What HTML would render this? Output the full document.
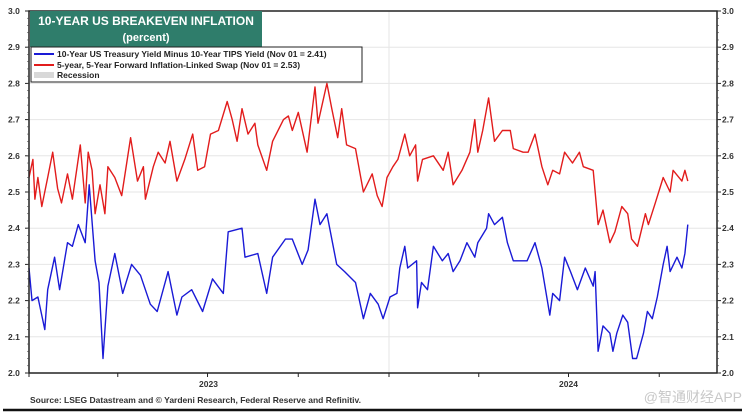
<!DOCTYPE html>
<html><head><meta charset="utf-8"><style>
body{margin:0;background:#fff;}
svg{display:block;font-family:"Liberation Sans",Arial,sans-serif;}
</style></head><body>
<svg id="chart" width="748" height="415" viewBox="0 0 748 415">
<g id="grid"></g>
<g id="series"></g>
<rect x="29" y="11" width="688" height="362" fill="none" stroke="#222" stroke-width="1.5"/>
<g id="axes"></g>
<g>
<rect x="30" y="11" width="232" height="36" fill="#2f7d6b"/>
<text x="146" y="25" text-anchor="middle" fill="#fff" font-size="12" font-weight="bold">10-YEAR US BREAKEVEN INFLATION</text>
<text x="146" y="41" text-anchor="middle" fill="#fff" font-size="11" font-weight="bold">(percent)</text>
</g>
<g>
<rect x="31" y="47" width="331" height="35" fill="#fff" stroke="#222" stroke-width="1"/>
<line x1="34" y1="54" x2="54" y2="54" stroke="#1a1ad6" stroke-width="2"/>
<text x="57" y="57" font-size="8.5" font-weight="bold" fill="#222">10-Year US Treasury Yield Minus 10-Year TIPS Yield (Nov 01 = 2.41)</text>
<line x1="34" y1="65" x2="54" y2="65" stroke="#e21c1c" stroke-width="2"/>
<text x="57" y="68" font-size="8.5" font-weight="bold" fill="#222">5-year, 5-Year Forward Inflation-Linked Swap (Nov 01 = 2.53)</text>
<rect x="34" y="72" width="20" height="6" fill="#d8d8d8"/>
<text x="57" y="78" font-size="8.5" font-weight="bold" fill="#222">Recession</text>
</g>
<text x="30" y="403" font-size="8.5" font-weight="bold" fill="#333">Source: LSEG Datastream and © Yardeni Research, Federal Reserve and Refinitiv.</text>
<line x1="3" y1="410" x2="742" y2="410" stroke="#111" stroke-width="2.5"/>
<text x="742" y="402" text-anchor="end" font-size="14" fill="#c8c8c8" font-family="'Liberation Sans','Noto Sans CJK SC',sans-serif">@智通财经APP</text>
</svg>
<script>
const blueDays=[0,3,9,16,19,26,31,39,44,50,57,61,67,71,75,80,87,95,104,113,123,130,141,150,155,165,176,186,197,202,216,219,232,241,247,260,267,277,283,290,295,302,312,320,331,339,346,354,359,366,373,376,381,384,393,394,398,404,410,419,425,430,437,444,452,455,464,466,472,480,485,491,505,513,520,528,531,538,543,549,556,564,572,574,577,582,589,592,596,602,607,612,616,623,627,632,637,643,647,650,657,662,665,668];
const blueVals=[2.29,2.20,2.21,2.12,2.23,2.32,2.23,2.36,2.35,2.41,2.36,2.52,2.31,2.25,2.04,2.24,2.33,2.22,2.30,2.27,2.19,2.17,2.28,2.16,2.21,2.23,2.17,2.26,2.22,2.39,2.40,2.32,2.33,2.22,2.32,2.37,2.37,2.30,2.34,2.48,2.41,2.44,2.30,2.28,2.25,2.15,2.22,2.19,2.15,2.21,2.22,2.29,2.35,2.29,2.31,2.18,2.25,2.23,2.35,2.31,2.33,2.28,2.31,2.36,2.32,2.36,2.40,2.44,2.41,2.43,2.36,2.31,2.31,2.36,2.29,2.16,2.22,2.20,2.32,2.28,2.23,2.29,2.24,2.28,2.06,2.13,2.11,2.06,2.11,2.16,2.14,2.04,2.04,2.11,2.17,2.15,2.21,2.30,2.35,2.28,2.32,2.29,2.33,2.41];
const redDays=[0,4,6,9,13,19,24,29,33,39,44,52,57,60,64,67,72,77,80,87,94,103,110,116,118,126,131,138,143,150,158,166,171,178,184,192,201,206,211,216,222,229,232,241,247,258,263,267,273,282,290,293,302,307,313,317,322,331,339,348,353,358,363,369,374,381,386,392,394,399,410,420,425,430,439,447,452,455,460,466,472,480,488,491,501,506,513,520,526,531,538,543,551,558,562,572,577,582,589,594,601,607,611,617,625,628,635,643,650,653,662,665,668];
const redVals=[2.54,2.59,2.48,2.54,2.46,2.54,2.61,2.51,2.47,2.55,2.48,2.63,2.47,2.61,2.56,2.44,2.52,2.44,2.57,2.54,2.49,2.65,2.53,2.57,2.48,2.57,2.61,2.58,2.64,2.53,2.59,2.66,2.56,2.57,2.66,2.67,2.75,2.70,2.64,2.73,2.66,2.69,2.63,2.56,2.64,2.70,2.71,2.67,2.72,2.61,2.79,2.69,2.80,2.73,2.65,2.73,2.63,2.62,2.50,2.55,2.49,2.46,2.54,2.57,2.59,2.66,2.60,2.63,2.53,2.59,2.60,2.56,2.61,2.52,2.56,2.61,2.70,2.61,2.67,2.76,2.64,2.67,2.67,2.62,2.61,2.61,2.66,2.57,2.52,2.56,2.55,2.61,2.58,2.61,2.57,2.56,2.41,2.45,2.36,2.39,2.46,2.44,2.37,2.35,2.44,2.41,2.47,2.54,2.50,2.56,2.53,2.56,2.53];
const yTicks=[2.0,2.1,2.2,2.3,2.4,2.5,2.6,2.7,2.8,2.9,3.0];
const yearLabels=["2023","2024"];
const yearStartDays=[0,365];
const quarterDays=[0,90,181,273,365,456,547,639];

const NS="http://www.w3.org/2000/svg";
const X0=29,PXD=360/365,Y0=373,PXV=362;
function xs(d){return X0+d*PXD;}
function ys(v){return Y0-(v-2)*PXV;}
function mk(tag,attrs,parent){const e=document.createElementNS(NS,tag);for(const k in attrs)e.setAttribute(k,attrs[k]);parent.appendChild(e);return e;}
const grid=document.getElementById('grid'),axes=document.getElementById('axes'),ser=document.getElementById('series');
yTicks.forEach(v=>{
  const y=ys(v);
  if(v>2&&v<3){const g=mk('line',{x1:29,x2:717,y1:y,y2:y,stroke:'#e6e6e6','stroke-width':1},grid);
  
  }
  const l=mk('text',{x:8,y:y+3,'font-size':8.5,'font-weight':'bold',fill:'#333'},axes);l.textContent=v.toFixed(1);
  
  
  const r=mk('text',{x:722,y:y+3,'font-size':8.5,'font-weight':'bold',fill:'#333'},axes);r.textContent=v.toFixed(1);
  
  
  mk('line',{x1:25,x2:29,y1:y,y2:y,stroke:'#222'},axes);
  mk('line',{x1:717,x2:721,y1:y,y2:y,stroke:'#222'},axes);
});
for(let i=0;i<50;i++){const y=ys(2+i*0.02);mk('line',{x1:27,x2:29,y1:y,y2:y,stroke:'#444','stroke-width':0.6},axes);mk('line',{x1:717,x2:719,y1:y,y2:y,stroke:'#444','stroke-width':0.6},axes);}
quarterDays.forEach(d=>{const x=xs(d);mk('line',{x1:x,x2:x,y1:373,y2:377,stroke:'#222'},axes);});
const vg=mk('line',{x1:xs(365),x2:xs(365),y1:11,y2:373,stroke:'#e6e6e6'},grid);


yearLabels.forEach((t,i)=>{
  const lab=mk('text',{x:xs(yearStartDays[i]+182),y:387,'text-anchor':'middle','font-size':8.5,'font-weight':'bold',fill:'#333'},axes);
  lab.textContent=t;
  
  
});
function line(days,vals,color,name){
  const p=mk('polyline',{points:days.map((d,i)=>xs(d).toFixed(1)+','+ys(vals[i]).toFixed(1)).join(' '),fill:'none',stroke:color,'stroke-width':1.4,'stroke-linejoin':'round'},ser);
  
  
}
line(redDays,redVals,'#e21c1c','swap-5y5y-line');
line(blueDays,blueVals,'#1a1ad6','breakeven-10y-line');
</script>
</body></html>
